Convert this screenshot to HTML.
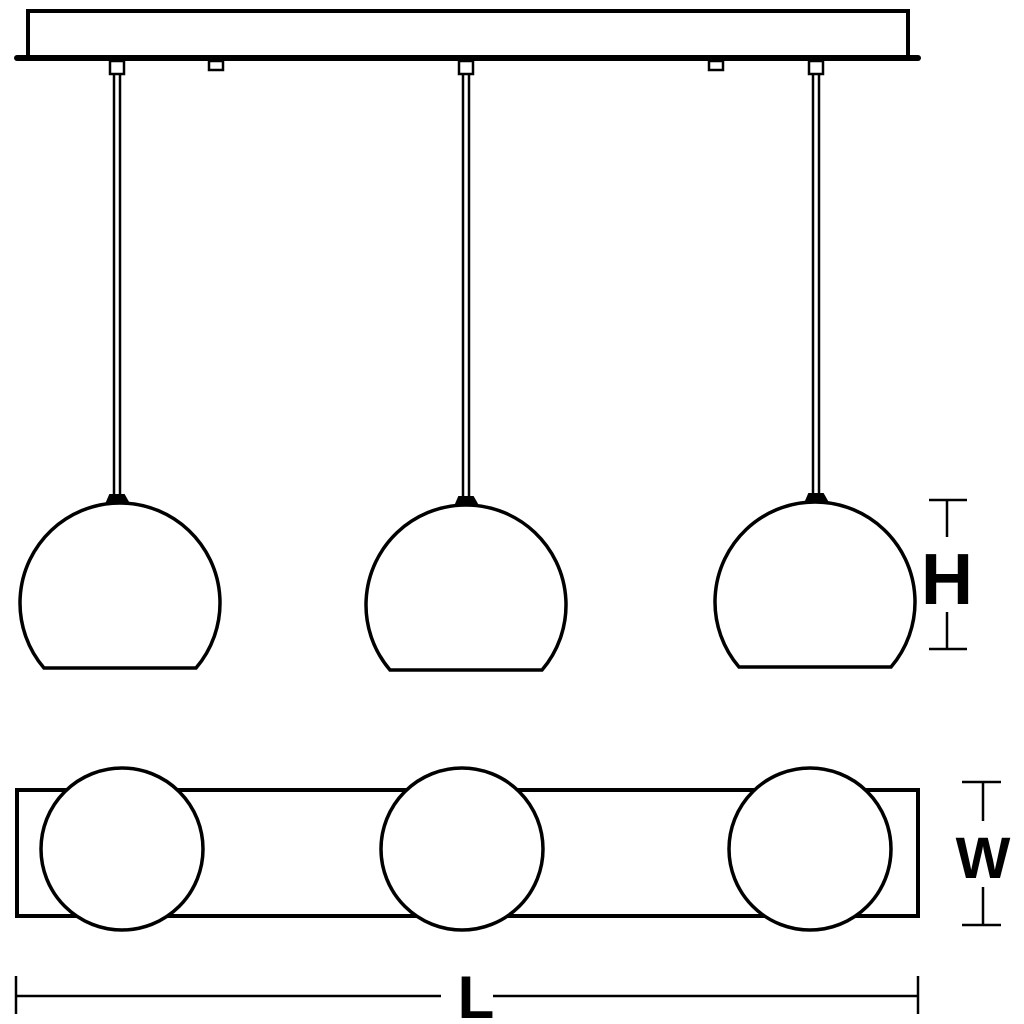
<!DOCTYPE html>
<html><head><style>body{margin:0;background:#fff}svg{display:block}</style></head><body>
<svg width="1024" height="1024" viewBox="0 0 1024 1024" xmlns="http://www.w3.org/2000/svg">
<g fill="none" stroke="#000" stroke-width="3">
<!-- canopy -->
<polyline points="28,57 28,11 908,11 908,57" stroke-width="4"/>
<line x1="17" y1="58" x2="918" y2="58" stroke-width="6" stroke-linecap="round"/>
<!-- small squares -->
<rect x="110" y="61" width="14" height="13" stroke-width="2.5"/>
<rect x="459" y="61" width="14" height="13" stroke-width="2.5"/>
<rect x="809" y="61" width="14" height="13" stroke-width="2.5"/>
<rect x="209" y="61" width="14" height="9" stroke-width="2.5"/>
<rect x="709" y="61" width="14" height="9" stroke-width="2.5"/>
<!-- cords -->
<g stroke-width="2.5">
<line x1="114" y1="74" x2="114" y2="496"/><line x1="120" y1="74" x2="120" y2="496"/>
<line x1="463" y1="74" x2="463" y2="498"/><line x1="469" y1="74" x2="469" y2="498"/>
<line x1="813" y1="74" x2="813" y2="495"/><line x1="819" y1="74" x2="819" y2="495"/>
</g>
<!-- caps -->
<path d="M107,502 L110,495 L124,495 L128,502 Z" fill="#000" stroke-width="2"/>
<path d="M456,504 L459,497 L473,497 L477,504 Z" fill="#000" stroke-width="2"/>
<path d="M806,501 L809,494 L823,494 L827,501 Z" fill="#000" stroke-width="2"/>
<!-- globes -->
<path d="M44,668 A100,100 0 1 1 196,668 Z" stroke-width="3.5"/>
<path d="M390,670 A100,100 0 1 1 542,670 Z" stroke-width="3.5"/>
<path d="M739,667 A100,100 0 1 1 891,667 Z" stroke-width="3.5"/>
<!-- H dim -->
<g stroke-width="2.5">
<line x1="929" y1="500" x2="967" y2="500"/><line x1="947" y1="500" x2="947" y2="537"/>
<line x1="947" y1="612" x2="947" y2="649"/><line x1="929" y1="649" x2="967" y2="649"/>
</g>
<!-- bottom view -->
<rect x="17" y="790" width="901" height="126" stroke-width="4"/>
<circle cx="122" cy="849" r="81" fill="#fff" stroke-width="3.5"/>
<circle cx="462" cy="849" r="81" fill="#fff" stroke-width="3.5"/>
<circle cx="810" cy="849" r="81" fill="#fff" stroke-width="3.5"/>
<!-- W dim -->
<g stroke-width="2.5">
<line x1="962" y1="782" x2="1001" y2="782"/><line x1="983" y1="782" x2="983" y2="821"/>
<line x1="983" y1="887" x2="983" y2="925"/><line x1="962" y1="925" x2="1001" y2="925"/>
</g>
<!-- L dim -->
<g stroke-width="2.5">
<line x1="16" y1="976" x2="16" y2="1014"/><line x1="918" y1="976" x2="918" y2="1014"/>
<line x1="16" y1="996" x2="441" y2="996"/><line x1="493" y1="996" x2="918" y2="996"/>
</g>
</g>
<g font-family="Liberation Sans, sans-serif" font-weight="bold" fill="#000" text-anchor="middle">
<text x="947" y="604" font-size="72">H</text>
<text x="983" y="878" font-size="58">W</text>
<text x="476" y="1018" font-size="60">L</text>
</g>
</svg>
</body></html>
